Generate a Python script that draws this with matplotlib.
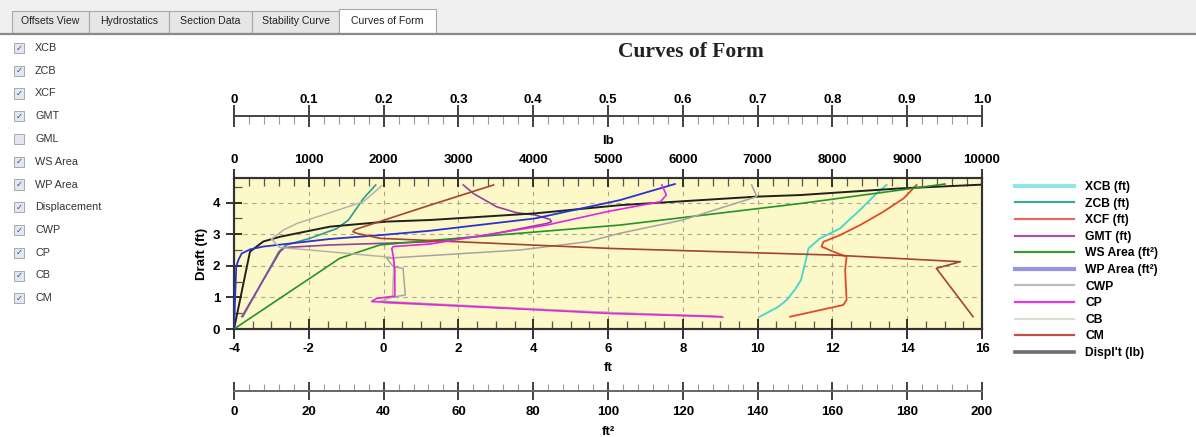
import matplotlib
matplotlib.use("Agg")
import matplotlib.pyplot as plt
from matplotlib.lines import Line2D
from matplotlib.patches import Rectangle
from matplotlib.ticker import MultipleLocator, FixedLocator

W, H = 1196, 437

# ---- data (x in the curve's own unit, y = draft in ft) ----
xcb_ft = [10.06, 10.55, 10.78, 11.0, 11.16, 11.29, 11.36, 11.67, 12.20, 12.74, 13.18, 13.45]
xcb_draft = [0.39, 0.70, 0.92, 1.25, 1.55, 2.18, 2.55, 2.87, 3.18, 3.77, 4.29, 4.56]

zcb_ft = [-3.76, -2.80, -2.60, -1.97, -1.25, -0.94, -0.54, -0.21]
zcb_draft = [0.40, 2.45, 2.66, 2.87, 3.18, 3.45, 4.13, 4.56]

xcf_ft = [10.87, 12.29, 12.38, 12.34, 12.38, 12.02, 11.71, 11.76, 12.20, 12.74, 13.36, 13.90, 14.12, 14.25]
xcf_draft = [0.39, 0.76, 0.92, 1.87, 2.29, 2.45, 2.61, 2.76, 2.97, 3.29, 3.71, 4.13, 4.40, 4.56]

gmt_ft = [-3.79, -2.77, -2.64, -1.43, 1.24, 2.76, 4.36, 4.49, 4.45, 4.05, 3.56, 3.02, 2.40, 2.13]
gmt_draft = [0.39, 2.45, 2.58, 2.66, 2.76, 2.97, 3.34, 3.40, 3.47, 3.61, 3.68, 3.87, 4.29, 4.56]

ws_ft2 = [0, 28.3, 39.0, 52.4, 103.2, 151.3, 190.1]
ws_draft = [0, 2.24, 2.66, 2.80, 3.29, 3.97, 4.59]

wp_ft2 = [0, 0.6, 1.15, 2.06, 4.28, 7.83, 25.7, 39.0, 52.4, 80.5, 103.2, 117.9]
wp_draft = [0, 1.98, 2.18, 2.39, 2.52, 2.61, 2.85, 2.97, 3.11, 3.50, 4.08, 4.59]

displ_lb = [0, 214, 392, 615, 1283, 2041, 2620, 4024, 5160, 6988, 7567, 8900, 10000]
displ_draft = [0, 2.45, 2.77, 2.92, 3.24, 3.40, 3.45, 3.66, 3.92, 4.19, 4.24, 4.45, 4.57]

cwp = [0.654, 0.503, 0.200, 0.204, 0.229, 0.226, 0.213, 0.204, 0.382, 0.472, 0.516, 0.600, 0.699, 0.692]
cwp_draft = [0.37, 0.52, 0.83, 0.97, 1.08, 1.92, 1.97, 2.24, 2.50, 2.76, 3.03, 3.45, 4.19, 4.56]

cp = [0.652, 0.503, 0.184, 0.191, 0.215, 0.215, 0.213, 0.211, 0.213, 0.262, 0.418, 0.500, 0.570, 0.578, 0.572]
cp_draft = [0.39, 0.49, 0.87, 0.97, 1.04, 1.87, 2.29, 2.55, 2.61, 2.69, 3.29, 3.72, 4.03, 4.24, 4.56]

cb = [0.643, 0.500, 0.196, 0.212, 0.214, 0.209, 0.102, 0.061, 0.050, 0.057, 0.066, 0.084, 0.128, 0.173, 0.191, 0.197]
cb_draft = [0.41, 0.52, 0.88, 1.02, 2.20, 2.27, 2.50, 2.58, 2.85, 2.97, 3.13, 3.34, 3.68, 4.03, 4.40, 4.53]

cm = [0.988, 0.939, 0.971, 0.801, 0.503, 0.195, 0.164, 0.159, 0.162, 0.262, 0.347]
cm_draft = [0.39, 1.92, 2.13, 2.34, 2.55, 2.87, 3.03, 3.08, 3.15, 3.92, 4.56]

coef_labels = ["0", "0.1", "0.2", "0.3", "0.4", "0.5", "0.6", "0.7", "0.8", "0.9", "1.0"]
legend_labels = ["XCB (ft)", "ZCB (ft)", "XCF (ft)", "GMT (ft)", "WS Area (ft²)", "WP Area (ft²)",
                 "CWP", "CP", "CB", "CM", "Displ't (lb)"]
tabs = ["Offsets View", "Hydrostatics", "Section Data", "Stability Curve", "Curves of Form"]
checks = ["XCB", "ZCB", "XCF", "GMT", "GML", "WS Area", "WP Area", "Displacement", "CWP", "CP", "CB", "CM"]
checked = [True, True, True, True, False, True, True, True, True, True, True, True]

colors = {
    "XCB": "#3fd8d0", "ZCB": "#2a9d8c", "XCF": "#e24a2a", "GMT": "#9440a0",
    "WS": "#24932a", "WP": "#2a32d2", "CWP": "#a4a4a4", "CP": "#e324e0",
    "CB": "#b4b4a6", "CM": "#a5432f", "DISPL": "#202020",
}
legend_colors = ["#8ee6e6", "#3ea89c", "#ea6a5a", "#a452ac", "#3c9c3c", "#9494ea",
                 "#bcbcbc", "#e236e2", "#deded0", "#c05048", "#6c6c6c"]
legend_widths = [3.0, 1.6, 1.6, 1.6, 1.6, 3.0, 1.6, 1.6, 1.6, 1.6, 2.6]


def fx(px):
    return px / W


def fy(py):
    return 1 - py / H


plt.rcParams["font.family"] = ["Liberation Sans", "DejaVu Sans"]
plt.rcParams["axes.unicode_minus"] = False
fig = plt.figure(figsize=(W / 100, H / 100), dpi=100)
fig.patch.set_facecolor("white")

# ---- tab bar ----
fig.add_artist(Rectangle((0, fy(33)), 1, fy(0) - fy(33), transform=fig.transFigure,
                         facecolor="#f0f0f0", edgecolor="none"))
tab_x = [12, 89, 169, 252, 339, 436]
for i, name in enumerate(tabs):
    sel = i == len(tabs) - 1
    top = 9 if sel else 11
    fig.add_artist(Rectangle((fx(tab_x[i]), fy(33)), fx(tab_x[i + 1] - tab_x[i]), fy(top) - fy(33),
                             transform=fig.transFigure, facecolor="white" if sel else "#e6e6e6",
                             edgecolor="#a8a8a8", lw=0.8))
    fig.text(fx((tab_x[i] + tab_x[i + 1]) / 2), fy(21), name, ha="center", va="center",
             fontsize=7.6, color="#222222")
fig.add_artist(Line2D([0, 1], [fy(33.5), fy(33.5)], transform=fig.transFigure, color="#8a8a8a", lw=1.6))

# ---- check list ----
for i, (name, on) in enumerate(zip(checks, checked)):
    yc = 48 + i * 22.75
    fig.add_artist(Rectangle((fx(14), fy(yc + 5)), fx(10), fy(yc - 5) - fy(yc + 5),
                             transform=fig.transFigure, facecolor="#e4e7ee", edgecolor="#a4a8b0", lw=0.7))
    if on:
        fig.text(fx(19), fy(yc), "✓", ha="center", va="center", fontsize=6,
                 color="#2f4f9f", family="DejaVu Sans")
    fig.text(fx(35), fy(yc), name, ha="left", va="center", fontsize=7.8, color="#333333")

# ---- title ----
fig.text(fx(691), fy(52), "Curves of Form", ha="center", va="center", fontsize=15.5,
         fontweight="bold", family="Liberation Serif", color="#222222")

# ---- main axes ----
L, R, T, B = 234, 982, 178, 329
ax = fig.add_axes([fx(L), fy(B), fx(R - L), fy(T) - fy(B)])
ax.set_facecolor("#fcf8c8")
ax.set_xlim(-4, 16)
ax.set_ylim(0, 4.78)
ax.xaxis.set_major_locator(MultipleLocator(2))
ax.xaxis.set_minor_locator(MultipleLocator(0.5))
ax.yaxis.set_major_locator(FixedLocator([0, 1, 2, 3, 4]))
ax.yaxis.set_minor_locator(MultipleLocator(0.5))
ax.tick_params(axis="x", which="major", direction="inout", length=14, width=1.3, pad=3,
               labelsize=9.5, color="#222222")
ax.tick_params(axis="x", which="minor", direction="in", length=6, width=0.9, color="#555555")
ax.tick_params(axis="y", which="major", direction="inout", length=12, width=1.3, pad=4,
               labelsize=9.5, color="#222222")
ax.tick_params(axis="y", which="minor", direction="in", length=6, width=0.9, color="#555555")
for lab in ax.get_xticklabels() + ax.get_yticklabels():
    lab.set_fontweight("bold")
ax.grid(True, which="major", color="#a9a89a", ls=(0, (4, 4)), lw=0.8)
for s in ax.spines.values():
    s.set_linewidth(1.5)
    s.set_color("#333333")
ax.set_xlabel("ft", fontsize=9.5, fontweight="bold", labelpad=5)
ax.set_ylabel("Draft (ft)", fontsize=9.5, fontweight="bold", labelpad=3)

ax.plot(xcb_ft, xcb_draft, color=colors["XCB"], lw=1.3)
ax.plot(zcb_ft, zcb_draft, color=colors["ZCB"], lw=1.2)
ax.plot(xcf_ft, xcf_draft, color=colors["XCF"], lw=1.3)
ax.plot(gmt_ft, gmt_draft, color=colors["GMT"], lw=1.2)

# lb scale on the top spine
ax_lb = ax.twiny()
ax_lb.set_xlim(0, 10000)
ax_lb.xaxis.set_major_locator(MultipleLocator(1000))
ax_lb.xaxis.set_minor_locator(MultipleLocator(200))
ax_lb.tick_params(axis="x", which="major", direction="inout", length=13, width=1.3, pad=2,
                  labelsize=9.5, color="#222222")
ax_lb.tick_params(axis="x", which="minor", direction="in", length=6, width=0.9, color="#555555")
for lab in ax_lb.get_xticklabels():
    lab.set_fontweight("bold")
ax_lb.set_xlabel("lb", fontsize=9.5, fontweight="bold", labelpad=7)
for s in ax_lb.spines.values():
    s.set_linewidth(1.5)
    s.set_color("#333333")
ax_lb.plot(displ_lb, displ_draft, color=colors["DISPL"], lw=1.4)

# hidden area scale (ft^2)
ax_area = ax.twiny()
ax_area.set_xlim(0, 200)
ax_area.xaxis.set_visible(False)
for s in ax_area.spines.values():
    s.set_visible(False)
ax_area.plot(ws_ft2, ws_draft, color=colors["WS"], lw=1.2)
ax_area.plot(wp_ft2, wp_draft, color=colors["WP"], lw=1.3)

# hidden coefficient scale (0-1)
ax_cf = ax.twiny()
ax_cf.set_xlim(0, 1)
ax_cf.xaxis.set_visible(False)
for s in ax_cf.spines.values():
    s.set_visible(False)
ax_cf.plot(cwp, cwp_draft, color=colors["CWP"], lw=1.1)
ax_cf.plot(cb, cb_draft, color=colors["CB"], lw=1.1)
ax_cf.plot(cm, cm_draft, color=colors["CM"], lw=1.2)
ax_cf.plot(cp, cp_draft, color=colors["CP"], lw=1.2)

# ---- separate coefficient scale at top ----
ax_top = fig.add_axes([fx(L), fy(116) - 0.02, fx(R - L), 0.02])
ax_top.patch.set_visible(False)
ax_top.set_xlim(0, 1)
ax_top.set_yticks([])
for k in ("bottom", "left", "right"):
    ax_top.spines[k].set_visible(False)
ax_top.spines["top"].set_linewidth(1.4)
ax_top.spines["top"].set_color("#444444")
ax_top.xaxis.tick_top()
ax_top.xaxis.set_major_locator(FixedLocator([i / 10 for i in range(11)]))
ax_top.set_xticklabels(coef_labels, fontweight="bold", fontsize=9.5)
ax_top.xaxis.set_minor_locator(MultipleLocator(0.02))
ax_top.tick_params(axis="x", which="major", direction="inout", length=16, width=1.3, pad=-1,
                   color="#333333")
ax_top.tick_params(axis="x", which="minor", direction="in", length=6, width=0.8, color="#9a9a9a")

# ---- separate area scale at bottom ----
ax_bot = fig.add_axes([fx(L), fy(391), fx(R - L), 0.02])
ax_bot.patch.set_visible(False)
ax_bot.set_xlim(0, 200)
ax_bot.set_yticks([])
for k in ("top", "left", "right"):
    ax_bot.spines[k].set_visible(False)
ax_bot.spines["bottom"].set_linewidth(1.4)
ax_bot.spines["bottom"].set_color("#666666")
ax_bot.xaxis.set_major_locator(MultipleLocator(20))
ax_bot.xaxis.set_minor_locator(MultipleLocator(4))
ax_bot.tick_params(axis="x", which="major", direction="inout", length=13, width=1.3, pad=4,
                   labelsize=9.5, color="#333333")
ax_bot.tick_params(axis="x", which="minor", direction="in", length=5, width=0.8, color="#9a9a9a")
for lab in ax_bot.get_xticklabels():
    lab.set_fontweight("bold")
ax_bot.set_xlabel("ft²", fontsize=9.5, fontweight="bold", labelpad=6)

# ---- legend ----
handles = [Line2D([], [], color=c, lw=w) for c, w in zip(legend_colors, legend_widths)]
fig.legend(handles, legend_labels, loc="upper left", bbox_to_anchor=(fx(1015), fy(181)),
           frameon=False, borderpad=0, borderaxespad=0, handlelength=4.9, handletextpad=0.9,
           labelspacing=0.38, prop={"size": 8.7, "weight": "bold"})

fig.savefig("out.png", dpi=100, facecolor="white")
